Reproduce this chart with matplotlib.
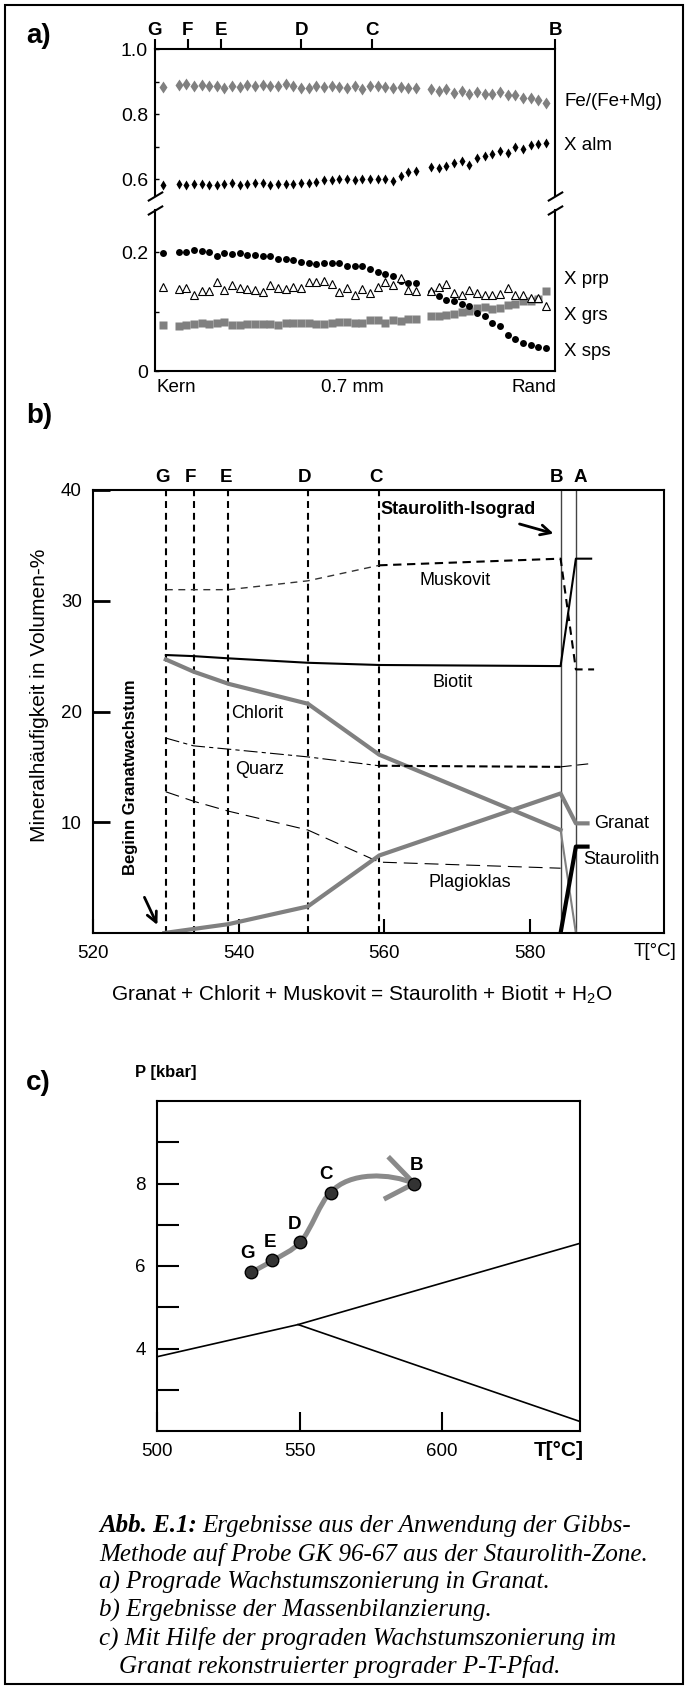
import numpy as np
import matplotlib as mpl
mpl.use('Agg')
import matplotlib.pyplot as plt
from matplotlib.path import Path
from matplotlib.patches import PathPatch, Rectangle

plt.rcParams['font.family'] = ['Liberation Sans', 'DejaVu Sans']
plt.rcParams['lines.scale_dashes'] = False
plt.rcParams['mathtext.fontset'] = 'custom'
plt.rcParams['mathtext.rm'] = 'Liberation Sans'

W, H = 688, 1688
def fx(px): return px / W
def fy(py): return 1 - py / H

nan = np.nan
GRAY = '#808080'

# ---- a) garnet zoning profile, 51 spots from core (Kern) to rim (Rand)
spot = np.arange(51)
fe_mg = [0.884, nan, 0.889, 0.891, 0.886, 0.888, 0.887, 0.886, 0.879, 0.887,
         0.884, 0.888, 0.887, 0.889, 0.885, 0.886, 0.891, 0.886, 0.880, 0.881,
         0.885, 0.884, 0.887, 0.884, 0.880, 0.887, 0.878, 0.885, 0.886, 0.884,
         0.880, 0.884, 0.880, 0.879, nan, 0.876, 0.872, 0.876, 0.866, 0.872,
         0.862, 0.867, 0.861, 0.862, 0.869, 0.859, 0.859, 0.849, 0.849, 0.844, 0.833]
x_alm = [0.582, nan, 0.584, 0.583, 0.584, 0.584, 0.581, 0.582, 0.584, 0.588,
         0.582, 0.586, 0.587, 0.587, 0.583, 0.585, 0.586, 0.584, 0.587, 0.588,
         0.590, 0.598, 0.596, 0.600, 0.599, 0.597, 0.600, 0.599, 0.601, 0.601,
         0.595, 0.610, 0.622, 0.625, nan, 0.638, 0.634, 0.641, 0.650, 0.656,
         0.643, 0.664, 0.670, 0.677, 0.685, 0.681, 0.698, 0.694, 0.706, 0.708, 0.711]
x_sps = [0.199, nan, 0.200, 0.200, 0.204, 0.202, 0.200, 0.194, 0.199, 0.197,
         0.199, 0.195, 0.195, 0.193, 0.193, 0.189, 0.189, 0.187, 0.183, 0.181,
         0.180, 0.182, 0.182, 0.182, 0.177, 0.176, 0.177, 0.171, 0.166, 0.163,
         0.160, 0.151, 0.148, 0.148, nan, 0.132, 0.126, 0.120, 0.117, 0.113,
         0.110, 0.098, 0.092, 0.081, 0.075, 0.061, 0.053, 0.047, 0.043, 0.041, 0.038]
x_prp = [0.141, nan, 0.137, 0.139, 0.127, 0.135, 0.134, 0.149, 0.136, 0.144,
         0.140, 0.138, 0.136, 0.132, 0.145, 0.140, 0.138, 0.142, 0.140, 0.150,
         0.150, 0.151, 0.147, 0.133, 0.140, 0.128, 0.138, 0.131, 0.141, 0.149,
         0.144, 0.156, 0.136, 0.134, nan, 0.135, 0.142, 0.146, 0.131, 0.127,
         0.136, 0.131, 0.128, 0.128, 0.130, 0.140, 0.128, 0.127, 0.123, 0.123, 0.110]
x_grs = [0.078, nan, 0.076, 0.077, 0.079, 0.080, 0.079, 0.080, 0.082, 0.078,
         0.078, 0.079, 0.079, 0.079, 0.079, 0.077, 0.080, 0.081, 0.081, 0.080,
         0.079, 0.079, 0.081, 0.082, 0.083, 0.080, 0.081, 0.085, 0.085, 0.081,
         0.085, 0.084, 0.087, 0.088, nan, 0.092, 0.093, 0.094, 0.096, 0.100,
         0.101, 0.106, 0.107, 0.104, 0.106, 0.111, 0.113, 0.117, 0.117, 0.121, 0.135]
prof_letters = ['G', 'F', 'E', 'D', 'C', 'B']
prof_letter_pos = [-1.08, 3.2, 7.5, 18.0, 27.3, 51.18]

# ---- b) mass balance, vol-% vs T
zone_letters = ['G', 'F', 'E', 'D', 'C', 'B', 'A']
zone_T = [530, 533.8, 538.6, 549.5, 559.3, 584.2, 586.3]
zone_label_T = [529.6, 533.4, 538.2, 549.1, 558.9, 583.6, 586.9]
ms_T = [530, 533.8, 538.6, 549.5, 559.3, 584.2, 586.3, 588.8]
ms_V = [31.0, 31.0, 31.0, 31.8, 33.2, 33.8, 23.8, 23.8]
bt_T = [530, 533.8, 538.6, 549.5, 559.3, 584.2, 586.3, 588.4]
bt_V = [25.1, 25.0, 24.8, 24.4, 24.2, 24.1, 33.8, 33.8]
chl_T = [530, 533.8, 538.6, 549.5, 559.3, 584.2, 586.3]
chl_V = [24.7, 23.6, 22.5, 20.7, 16.1, 9.3, 0.0]
qz_T = [530, 533.8, 538.6, 549.5, 559.3, 584.2, 588.4]
qz_V = [17.6, 16.9, 16.6, 15.9, 15.1, 15.0, 15.3]
pl_T = [530, 533.8, 538.6, 549.5, 559.3, 584.2]
pl_V = [12.75, 11.9, 11.0, 9.3, 6.4, 5.85]
grt_T = [529.8, 538.6, 549.5, 559.3, 584.2, 586.3, 587.9]
grt_V = [0.0, 0.8, 2.4, 7.0, 12.6, 9.9, 9.9]
st_T = [584.2, 586.3, 587.9]
st_V = [0.0, 7.8, 7.8]

# ---- c) P-T path
pt_labels = ['G', 'E', 'D', 'C', 'B']
pt_T = [533.1, 540.5, 550.2, 560.9, 590.2]
pt_P = [5.86, 6.14, 6.57, 7.78, 8.0]
pt_lab_dx = [-4, -2, -6, -5, 2]
# bezier control points between successive path points
ctrl_T = [535.6, 538.0, 543.8, 547.6, 554.0, 557.5, 567.5, 582.0]
ctrl_P = [5.93, 6.02, 6.25, 6.38, 6.85, 7.60, 8.30, 8.25]
arrow_T = [581.1, 590.2, 579.6]
arrow_P = [8.65, 8.0, 7.62]
rx1_T = [500, 549.5, 648.4]
rx1_P = [3.8, 4.58, 6.55]
rx2_T = [549.5, 648.4]
rx2_P = [4.58, 2.23]

fig = plt.figure(figsize=(W / 100, H / 100), dpi=100)
fig.patches.append(Rectangle((fx(5), fy(1684)), fx(683) - fx(5), fy(5) - fy(1684),
                             transform=fig.transFigure, fill=False, lw=1.5, ec='black'))

# ================= a)
axU = fig.add_axes([fx(155), fy(196), fx(555) - fx(155), fy(49) - fy(196)])
axL = fig.add_axes([fx(155), fy(371), fx(555) - fx(155), fy(210) - fy(371)])
for ax in (axU, axL):
    ax.set_xlim(-1.08, 51.18)
    ax.tick_params(axis='y', which='both', direction='in', length=3, width=1,
                   labelsize=14, pad=5)
    for s in ax.spines.values():
        s.set_linewidth(1.5)

axU.plot(spot, fe_mg, 'd', color=GRAY, ms=6.5, mec='none')
axU.plot(spot, x_alm, 'd', color='black', ms=5, mec='none')
axU.set_ylim(0.548, 1.0)
axU.set_yticks([0.6, 0.8, 1.0], ['0.6', '0.8', '1.0'])
axU.set_yticks([0.7, 0.9], minor=True)
axU.spines['bottom'].set_visible(False)
axU.xaxis.tick_top()
axU.set_xticks(prof_letter_pos, prof_letters)
axU.tick_params(axis='x', direction='out', length=7.2, width=1.5, pad=0, labelsize=13.5)
for lab in axU.get_xticklabels():
    lab.set_fontweight('bold')

axL.plot(spot, x_grs, 's', color=GRAY, ms=6, mec='none')
axL.plot(spot, x_sps, 'o', color='black', ms=5, mec='none')
axL.plot(spot, x_prp, '^', mfc='white', mec='black', ms=5.5, mew=0.8)
axL.set_ylim(0, 0.2706)
axL.set_yticks([0, 0.2], ['0', '0.2'])
axL.set_yticks([0.1], minor=True)
axL.spines['top'].set_visible(False)
axL.set_xticks([])

d = 0.6
kw = dict(marker=[(-1, -d), (1, d)], markersize=11, linestyle='none',
          color='k', mec='k', mew=1.5, clip_on=False)
axU.plot([0, 1], [0, 0], transform=axU.transAxes, **kw)
axL.plot([0, 1], [1, 1], transform=axL.transAxes, **kw)

for txt, y in [('Fe/(Fe+Mg)', 102), ('X alm', 145), ('X prp', 279),
               ('X grs', 316), ('X sps', 352)]:
    fig.text(fx(564), fy(y), txt, fontsize=13.5, va='center')
fig.text(fx(156), fy(388), 'Kern', fontsize=13.5, va='center', ha='left')
fig.text(fx(352), fy(388), '0.7 mm', fontsize=13.5, va='center', ha='center')
fig.text(fx(556), fy(388), 'Rand', fontsize=13.5, va='center', ha='right')
fig.text(fx(26), fy(36), 'a)', fontsize=20, weight='bold', va='center')

# ================= b)
axB = fig.add_axes([fx(93), fy(933), fx(664) - fx(93), fy(490) - fy(933)])
axB.set_xlim(520, 598.4)
axB.set_ylim(0, 40)
for s in axB.spines.values():
    s.set_linewidth(1.5)
for t in zone_T[:5]:
    axB.axvline(t, color='black', lw=1.5, ls=(0, (5, 3.5)))
for t in zone_T[5:]:
    axB.axvline(t, color='#444444', lw=1.0)
for t, lab in zip(zone_label_T, zone_letters):
    axB.annotate(lab, (t, 40), xytext=(0, 12), textcoords='offset pixels',
                 ha='center', va='center', fontsize=13.5, weight='bold')

axB.plot(ms_T[:5], ms_V[:5], color='#333333', lw=1.0, ls=(0, (5, 4)))
axB.plot(ms_T[4:], ms_V[4:], color='black', lw=1.5, ls=(0, (6, 4)))
axB.plot(bt_T, bt_V, color='black', lw=1.5)
axB.plot(chl_T[:6], chl_V[:6], color=GRAY, lw=3)
axB.plot(chl_T[5:], chl_V[5:], color=GRAY, lw=1.5)
axB.plot(qz_T[:5], qz_V[:5], color='black', lw=0.8, ls=(0, (10, 3, 3, 3)))
axB.plot(qz_T[4:6], qz_V[4:6], color='black', lw=1.5, ls=(0, (6, 3)))
axB.plot(qz_T[5:], qz_V[5:], color='black', lw=0.8, ls=(0, (8, 4)))
axB.plot(pl_T, pl_V, color='black', lw=0.8, ls=(0, (10, 5)))
axB.plot(grt_T, grt_V, color=GRAY, lw=3)
axB.plot(st_T, st_V, color='black', lw=3)

axB.set_xticks([520, 540, 560, 580])
axB.tick_params(axis='x', direction='in', length=10, width=1.5, labelsize=13.5, pad=9)
axB.set_yticks([10, 20, 30, 40])
axB.tick_params(axis='y', direction='in', length=12, width=2, labelsize=13.5, pad=8)

lbl = dict(fontsize=13, ha='center', va='center')
axB.text(569.7, 31.8, 'Muskovit', **lbl)
axB.text(569.4, 22.65, 'Biotit', **lbl)
axB.text(542.6, 19.85, 'Chlorit', **lbl)
axB.text(542.9, 14.8, 'Quarz', **lbl)
axB.text(571.7, 4.55, 'Plagioklas', **lbl)
axB.text(588.8, 9.85, 'Granat', fontsize=13, ha='left', va='center')
axB.text(587.3, 6.65, 'Staurolith', fontsize=13, ha='left', va='center')
axB.text(559.5, 38.2, 'Staurolith-Isograd', fontsize=13, weight='bold',
         ha='left', va='center')
axB.annotate('', xy=(583.6, 36.0), xytext=(578.2, 37.0),
             arrowprops=dict(arrowstyle='->', lw=2, color='black',
                             mutation_scale=18))
axB.text(525.1, 14.1, 'Beginn Granatwachstum', fontsize=12, weight='bold',
         rotation=90, ha='center', va='center')
axB.annotate('', xy=(529.0, 0.5), xytext=(526.9, 3.45),
             arrowprops=dict(arrowstyle='->', lw=2, color='black',
                             mutation_scale=18))
fig.text(fx(40), fy(695), 'Mineralhäufigkeit in Volumen-%', fontsize=15,
         rotation=90, ha='center', va='center')
fig.text(fx(676), fy(951), 'T[°C]', fontsize=13.5, ha='right', va='center')
fig.text(fx(362), fy(995), 'Granat + Chlorit + Muskovit = Staurolith + Biotit + H$_2$O',
         fontsize=15, ha='center', va='center')
fig.text(fx(26), fy(416), 'b)', fontsize=20, weight='bold', va='center')

# ================= c)
axC = fig.add_axes([fx(157), fy(1431), fx(580) - fx(157), fy(1101) - fy(1431)])
axC.set_xlim(500, 648.4)
axC.set_ylim(2, 10)
for s in axC.spines.values():
    s.set_linewidth(1.5)
axC.plot(rx1_T, rx1_P, color='black', lw=1.2)
axC.plot(rx2_T, rx2_P, color='black', lw=1.2)

verts = [(pt_T[0], pt_P[0])]
codes = [Path.MOVETO]
for i in range(4):
    verts += [(ctrl_T[2 * i], ctrl_P[2 * i]), (ctrl_T[2 * i + 1], ctrl_P[2 * i + 1]),
              (pt_T[i + 1], pt_P[i + 1])]
    codes += [Path.CURVE4] * 3
axC.add_patch(PathPatch(Path(verts, codes), fill=False, ec='#8a8a8a', lw=3.6,
                        capstyle='butt'))
axC.plot(arrow_T, arrow_P, color='#8a8a8a', lw=3.6, solid_joinstyle='miter',
         solid_capstyle='butt')
axC.plot(pt_T, pt_P, 'o', ms=9, mfc='#333333', mec='black', mew=1)
for t, p, lab, dx in zip(pt_T, pt_P, pt_labels, pt_lab_dx):
    axC.annotate(lab, (t, p), xytext=(dx, 18), textcoords='offset pixels',
                 ha='center', va='center', fontsize=13.5, weight='bold')

axC.set_yticks(range(3, 10), ['', '4', '', '6', '', '8', ''])
axC.tick_params(axis='y', direction='in', length=16, width=1.5, labelsize=13.5, pad=8)
axC.set_xticks([500, 550, 600])
axC.tick_params(axis='x', direction='in', length=14, width=1.5, labelsize=13.5, pad=9)
fig.text(fx(584), fy(1450), 'T[°C]', fontsize=15, weight='bold', ha='right', va='center')
fig.text(fx(135), fy(1073), 'P [kbar]', fontsize=12, weight='bold', ha='left', va='center')
fig.text(fx(26), fy(1083), 'c)', fontsize=20, weight='bold', va='center')

# ================= caption
cap = dict(fontfamily=['Liberation Serif', 'DejaVu Serif'], style='italic',
           fontsize=18, va='center')
r = fig.canvas.get_renderer()
t0 = fig.text(fx(99), fy(1526), 'Abb. E.1:', weight='bold', **cap)
bb = t0.get_window_extent(r)
fig.text(bb.x1 / W + fx(5), fy(1526), 'Ergebnisse aus der Anwendung der Gibbs-', **cap)
lines = ['Methode auf Probe GK 96-67 aus der Staurolith-Zone.',
         'a) Prograde Wachstumszonierung in Granat.',
         'b) Ergebnisse der Massenbilanzierung.',
         'c) Mit Hilfe der prograden Wachstumszonierung im']
for i, s in enumerate(lines):
    fig.text(fx(99), fy(1554 + 28 * i), s, **cap)
fig.text(fx(119), fy(1666), 'Granat rekonstruierter prograder P-T-Pfad.', **cap)

fig.savefig('out.png', dpi=100)
